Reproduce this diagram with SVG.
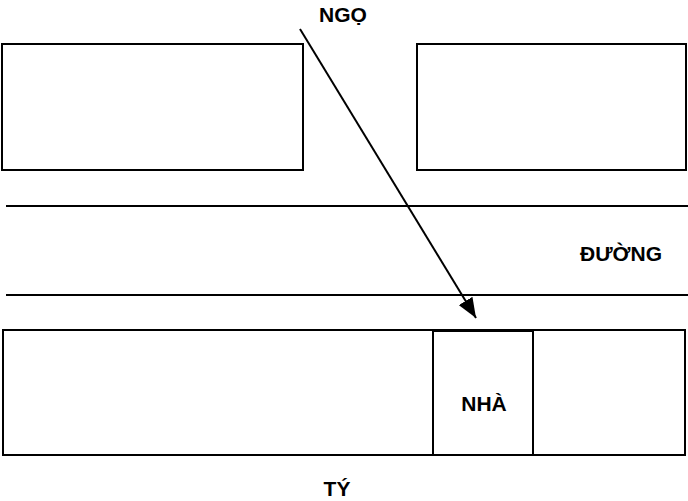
<svg xmlns="http://www.w3.org/2000/svg" width="688" height="501" viewBox="0 0 688 501">
<style>
.s{fill:none;stroke:#000;stroke-width:2}
.t{font-family:"Liberation Sans",Arial,sans-serif;font-weight:bold;font-size:21px;fill:#000;text-anchor:middle}
</style>
<defs><marker id="ah" viewBox="0 0 20 16" refX="20" refY="8" markerWidth="20" markerHeight="16" markerUnits="userSpaceOnUse" orient="auto"><path d="M0,0 L20,8 L0,16 z"/></marker></defs>
<rect fill="#fff" width="688" height="501"/>
<g id="block1"><rect class="s" x="2" y="44" width="301" height="126"/></g>
<g id="block2"><rect class="s" x="417" y="44" width="269" height="126"/></g>
<g id="road"><line class="s" x1="6" y1="206" x2="688" y2="206"/><line class="s" x1="6" y1="295" x2="688" y2="295"/><text class="t" x="621" y="261">ĐƯỜNG</text></g>
<g id="block3"><rect class="s" x="3" y="330" width="682" height="125"/></g>
<g id="nha"><rect class="s" x="433" y="330" width="100" height="125"/><rect x="433" y="329" width="100" height="3" fill="#000"/><text class="t" x="484" y="411">NHÀ</text></g>
<g id="ngo"><text class="t" x="343" y="22">NGỌ</text></g>
<g id="ty"><text class="t" x="337" y="496">TÝ</text></g>
<g id="connectors"><line x1="300" y1="29" x2="476" y2="318" stroke="#000" stroke-width="2" marker-end="url(#ah)"/></g>
</svg>
